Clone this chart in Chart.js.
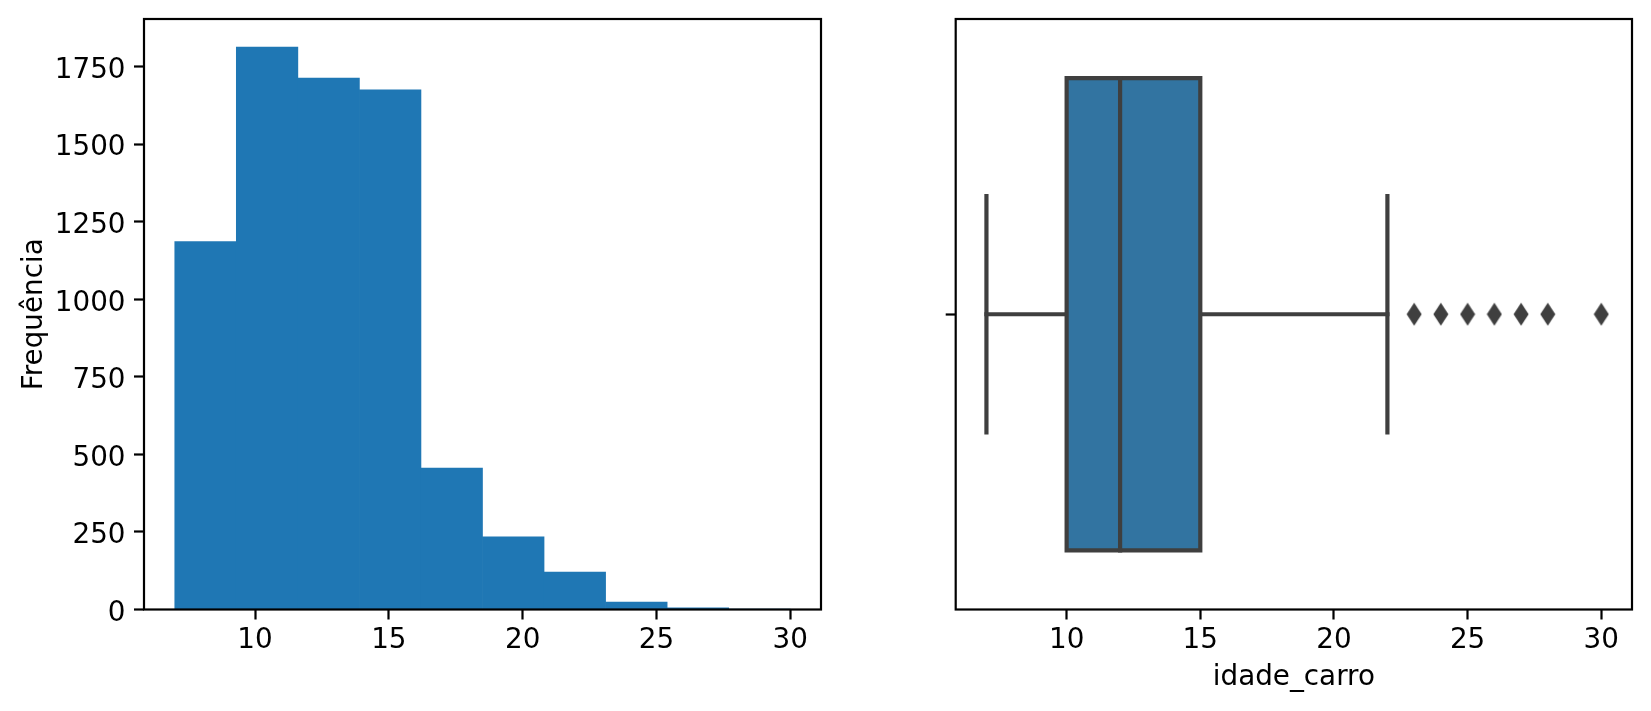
<!DOCTYPE html>
<html>
<head>
<meta charset="utf-8">
<title>idade_carro</title>
<script src="https://cdn.jsdelivr.net/npm/chart.js@4.4.1/dist/chart.umd.min.js"></script>
<style>
  html, body { margin: 0; padding: 0; background: #fff; }
  #wrap { position: relative; width: 1651px; height: 711px; }
  canvas { position: absolute; top: 0; }
  #hist { left: 0; }
  #box { left: 830px; }
</style>
</head>
<body>
<div id="wrap">
  <canvas id="hist" width="830" height="711"></canvas>
  <canvas id="box" width="821" height="711"></canvas>
</div>
<script>
// histograma de idade_carro (10 bins entre 7 e 30)
const binEdges = [7, 9.3, 11.6, 13.9, 16.2, 18.5, 20.8, 23.1, 25.4, 27.7, 30];
const binCounts = [1186, 1813, 1713, 1675, 456, 234, 121, 24, 5, 1];
const countTicks = [0, 250, 500, 750, 1000, 1250, 1500, 1750];
const ageTicks = [10, 15, 20, 25, 30];

// boxplot de idade_carro
const whiskerLow = 7, q1 = 10, median = 12, q3 = 15, whiskerHigh = 22;
const outliers = [23, 24, 25, 26, 27, 28, 30];

const yLabel = 'Frequência';
const xLabel = 'idade_carro';

// estilo (imitando matplotlib/seaborn a 200 dpi)
const SPINE = 2.2;
const TICK_LEN = 10;
const LINE_W = 4.2;
const GRAY = '#3f3f3f';
const BOX_HALF = 0.4;   // largura da caixa 0.8
const CAP_HALF = 0.2;

Chart.defaults.font.family = 'DejaVu Sans';
Chart.defaults.font.size = 27.8;
Chart.defaults.color = '#000';

// margem de 5% como no matplotlib
const lo = binEdges[0], hi = binEdges[binEdges.length - 1];
const xMin = lo - 0.05 * (hi - lo);
const xMax = hi + 0.05 * (hi - lo);

// moldura (spines) em volta da área do gráfico
const frame = {
    id: 'frame',
    afterDraw(chart) {
        const { ctx, chartArea: a } = chart;
        ctx.save();
        ctx.strokeStyle = '#000';
        ctx.lineWidth = SPINE;
        ctx.strokeRect(a.left, a.top, a.right - a.left, a.bottom - a.top);
        ctx.restore();
    }
};

function fixWidth(w) {
    return s => { s.width = w; s.paddingTop = 0; s.paddingBottom = 0; s.paddingLeft = 0; s.paddingRight = 0; };
}
function fixHeight(h) {
    return s => { s.height = h; s.paddingTop = 0; s.paddingBottom = 0; s.paddingLeft = 0; s.paddingRight = 0; };
}
function setTicks(values) {
    return s => { s.ticks = values.map(v => ({ value: v })); };
}

const tickGrid = {
    display: true,
    drawOnChartArea: false,
    drawTicks: true,
    tickLength: TICK_LEN,
    tickWidth: SPINE,
    tickColor: '#000',
    offset: false
};

// ---- histograma ----
new Chart(document.getElementById('hist'), {
    type: 'bar',
    data: {
        datasets: [{
            data: binCounts.map((c, i) => ({ x: (binEdges[i] + binEdges[i + 1]) / 2, y: c })),
            backgroundColor: '#1f77b4',
            borderWidth: 0,
            barPercentage: 1,
            categoryPercentage: 1
        }]
    },
    options: {
        responsive: false,
        animation: false,
        layout: { padding: { left: 0, top: 19, right: 9, bottom: 0 } },
        plugins: { legend: { display: false }, tooltip: { enabled: false } },
        scales: {
            x: {
                type: 'linear',
                offset: false,
                min: xMin,
                max: xMax,
                afterBuildTicks: setTicks(ageTicks),
                afterFit: fixHeight(101.5),
                grid: tickGrid,
                border: { display: false },
                ticks: { padding: 5, maxRotation: 0, autoSkip: false, callback: v => String(v) }
            },
            y: {
                type: 'linear',
                min: 0,
                max: Math.max(...binCounts) * 1.05,
                afterBuildTicks: setTicks(countTicks),
                afterFit: fixWidth(144),
                grid: tickGrid,
                border: { display: false },
                title: { display: true, text: yLabel, padding: { top: 18.3, bottom: 0 } },
                ticks: { padding: 8.5, labelOffset: 4, autoSkip: false, callback: v => String(v) }
            }
        }
    },
    plugins: [frame]
});

// ---- boxplot ----
const diamond = document.createElement('canvas');
diamond.width = 16;
diamond.height = 24;
const dc = diamond.getContext('2d');
dc.fillStyle = GRAY;
dc.beginPath();
dc.moveTo(8, 0.5);
dc.lineTo(15.5, 12);
dc.lineTo(8, 23.5);
dc.lineTo(0.5, 12);
dc.closePath();
dc.fill();

function seg(points, extra) {
    return Object.assign({
        data: points.map(p => ({ x: p[0], y: p[1] })),
        showLine: true,
        borderColor: GRAY,
        borderWidth: LINE_W,
        borderCapStyle: 'square',
        borderJoinStyle: 'miter',
        pointRadius: 0,
        fill: false
    }, extra || {});
}

new Chart(document.getElementById('box'), {
    type: 'scatter',
    data: {
        datasets: [
            {
                data: outliers.map(v => ({ x: v, y: 0 })),
                pointStyle: diamond,
                pointRadius: 8,
                backgroundColor: GRAY,
                borderWidth: 0
            },
            seg([[median, -BOX_HALF], [median, BOX_HALF]]),
            seg([[q1, -BOX_HALF], [q3, -BOX_HALF], [q3, BOX_HALF], [q1, BOX_HALF], [q1, -BOX_HALF]],
                { fill: 'shape', backgroundColor: '#3274a1' }),
            seg([[whiskerLow, 0], [q1, 0]]),
            seg([[q3, 0], [whiskerHigh, 0]]),
            seg([[whiskerLow, -CAP_HALF], [whiskerLow, CAP_HALF]]),
            seg([[whiskerHigh, -CAP_HALF], [whiskerHigh, CAP_HALF]])
        ]
    },
    options: {
        responsive: false,
        animation: false,
        layout: { padding: { left: 0, top: 19, right: 19, bottom: 0 } },
        plugins: { legend: { display: false }, tooltip: { enabled: false } },
        scales: {
            x: {
                type: 'linear',
                min: xMin,
                max: xMax,
                afterBuildTicks: setTicks(ageTicks),
                afterFit: fixHeight(101.5),
                grid: tickGrid,
                border: { display: false },
                title: { display: true, text: xLabel, padding: { top: 0, bottom: 16.6 } },
                ticks: { padding: 5, maxRotation: 0, autoSkip: false, callback: v => String(v) }
            },
            y: {
                type: 'linear',
                min: -0.5,
                max: 0.5,
                afterBuildTicks: setTicks([0]),
                afterFit: fixWidth(125.7),
                grid: tickGrid,
                border: { display: false },
                ticks: { padding: 4, callback: () => '' }
            }
        }
    },
    plugins: [frame]
});
</script>
</body>
</html>
